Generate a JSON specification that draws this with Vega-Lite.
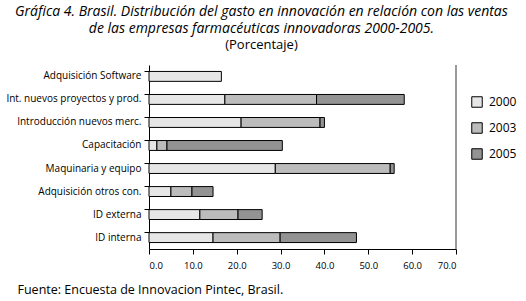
{
  "$schema": "https://vega.github.io/schema/vega-lite/v6.json",
  "width": 307,
  "height": 184,
  "padding": {"left": 5, "top": 4, "right": 5, "bottom": 5},
  "background": "white",
  "config": {
    "font": "Open Sans",
    "view": {"stroke": null}
  },
  "title": {
    "text": ["Gráfica 4.  Brasil. Distribución del gasto en innovación en relación con las ventas", "de las empresas farmacéuticas innovadoras 2000-2005."],
    "subtitle": "(Porcentaje)",
    "font": "Open Sans",
    "fontSize": 14,
    "fontStyle": "italic",
    "fontWeight": "normal",
    "lineHeight": 17,
    "subtitleFont": "Open Sans",
    "subtitleFontSize": 13,
    "subtitleColor": "black",
    "subtitlePadding": 3,
    "color": "black",
    "anchor": "middle",
    "frame": "bounds",
    "offset": 13
  },
  "data": {
    "values": [
      {"categoria": "Adquisición Software", "anio": "2000", "valor": 16.5},
      {"categoria": "Int. nuevos proyectos y prod.", "anio": "2000", "valor": 17.3},
      {"categoria": "Int. nuevos proyectos y prod.", "anio": "2003", "valor": 20.9},
      {"categoria": "Int. nuevos proyectos y prod.", "anio": "2005", "valor": 20.0},
      {"categoria": "Introducción nuevos merc.", "anio": "2000", "valor": 21.0},
      {"categoria": "Introducción nuevos merc.", "anio": "2003", "valor": 18.0},
      {"categoria": "Introducción nuevos merc.", "anio": "2005", "valor": 1.0},
      {"categoria": "Capacitación", "anio": "2000", "valor": 1.8},
      {"categoria": "Capacitación", "anio": "2003", "valor": 2.3},
      {"categoria": "Capacitación", "anio": "2005", "valor": 26.3},
      {"categoria": "Maquinaria y equipo", "anio": "2000", "valor": 28.8},
      {"categoria": "Maquinaria y equipo", "anio": "2003", "valor": 26.2},
      {"categoria": "Maquinaria y equipo", "anio": "2005", "valor": 0.9},
      {"categoria": "Adquisición otros con.", "anio": "2000", "valor": 5.0},
      {"categoria": "Adquisición otros con.", "anio": "2003", "valor": 4.8},
      {"categoria": "Adquisición otros con.", "anio": "2005", "valor": 4.8},
      {"categoria": "ID externa", "anio": "2000", "valor": 11.6},
      {"categoria": "ID externa", "anio": "2003", "valor": 8.7},
      {"categoria": "ID externa", "anio": "2005", "valor": 5.5},
      {"categoria": "ID interna", "anio": "2000", "valor": 14.6},
      {"categoria": "ID interna", "anio": "2003", "valor": 15.3},
      {"categoria": "ID interna", "anio": "2005", "valor": 17.4}
    ]
  },
  "layer": [
    {
      "mark": {"type": "bar", "stroke": "black", "strokeWidth": 1},
      "encoding": {
        "y": {
          "field": "categoria",
          "type": "nominal",
          "sort": ["Adquisición Software", "Int. nuevos proyectos y prod.", "Introducción nuevos merc.", "Capacitación", "Maquinaria y equipo", "Adquisición otros con.", "ID externa", "ID interna"],
          "scale": {"paddingInner": 0.57, "paddingOuter": 0.28},
          "axis": {
            "title": null,
            "bandPosition": 0,
            "domainColor": "black",
            "tickColor": "black",
            "tickSize": 5,
            "labelFontSize": 10,
            "labelColor": "black",
            "labelPadding": 3,
            "labelFont": "Open Sans"
          }
        },
        "x": {
          "field": "valor",
          "type": "quantitative",
          "stack": "zero",
          "scale": {"domain": [0, 70], "nice": false},
          "axis": {
            "values": [0, 10, 20, 30, 40, 50, 60, 70],
            "format": ".1f",
            "grid": false,
            "domainColor": "black",
            "tickColor": "black",
            "tickSize": 5,
            "labelFontSize": 9.5,
            "labelColor": "black",
            "labelPadding": 6,
            "labelFont": "Open Sans",
            "title": "Fuente: Encuesta de Innovacion Pintec, Brasil.",
            "titleFont": "Open Sans",
            "titleFontSize": 12.5,
            "titleFontWeight": "normal",
            "titleColor": "black",
            "titleAnchor": "start",
            "titleAlign": "left",
            "titleX": -132,
            "titleY": 34
          }
        },
        "color": {
          "field": "anio",
          "type": "nominal",
          "scale": {"domain": ["2000", "2003", "2005"], "range": ["#e6e6e6", "#bcbcbc", "#939393"]},
          "legend": {
            "title": null,
            "orient": "none",
            "legendX": 322,
            "legendY": 31,
            "symbolType": "square",
            "symbolSize": 110,
            "symbolStrokeColor": "black",
            "symbolStrokeWidth": 1,
            "labelFontSize": 12,
            "labelColor": "black",
            "labelFont": "Open Sans",
            "rowPadding": 10,
            "labelOffset": 6
          }
        },
        "order": {"field": "anio", "type": "nominal", "sort": "ascending"}
      }
    },
    {
      "mark": {"type": "rule", "color": "#999999", "strokeWidth": 1},
      "encoding": {"x": {"datum": 70}}
    }
  ]
}
